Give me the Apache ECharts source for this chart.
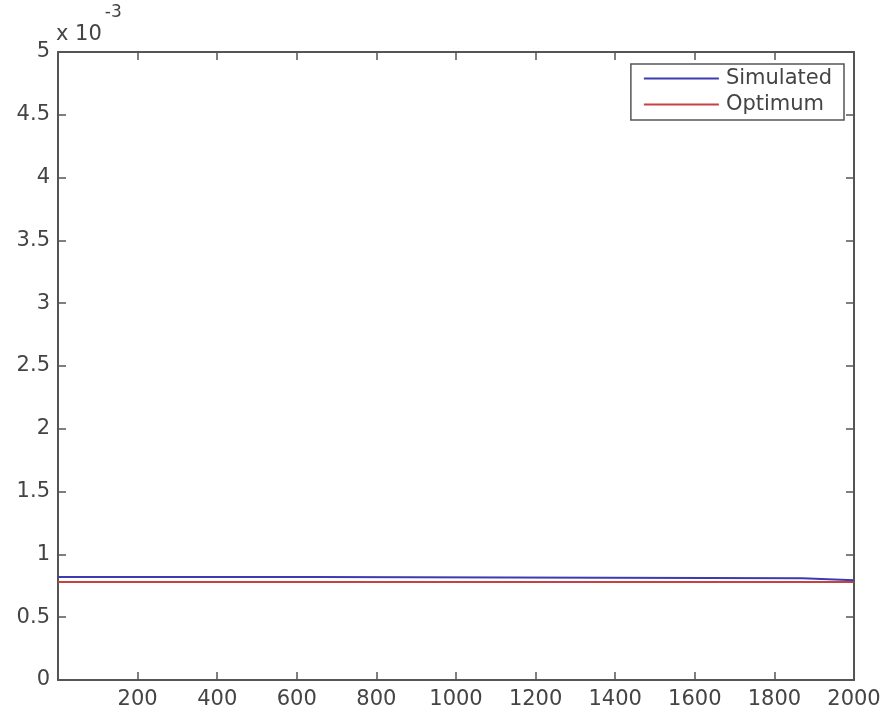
<!DOCTYPE html>
<html>
<head>
<meta charset="utf-8">
<script src="https://cdn.jsdelivr.net/npm/echarts@6/dist/echarts.min.js"></script>
<style>
html, body { margin: 0; padding: 0; background: #fff; }
#main { width: 886px; height: 715px; }
</style>
</head>
<body>
<div id="main"></div>
<script>
// data
const simX = [0, 650, 650, 1870, 1870, 2000];
const simY = [0.00082, 0.00082, 0.00081, 0.00081, 0.000795, 0.000795];
const optX = [0, 2000];
const optY = [0.00078, 0.00078];
const seriesNames = ['Simulated', 'Optimum'];

const axisCol = '#555';
const txtCol = '#444';
const fontFam = 'DejaVu Sans, sans-serif';

function pairs(xs, ys) {
  return xs.map((x, i) => [x, ys[i]]);
}

function yLabel(v) {
  const s = Math.round(v * 1e4) / 10;
  return String(s);
}

const chart = echarts.init(document.getElementById('main'));

const tickStyle = { inside: true, length: 8, lineStyle: { color: axisCol, width: 1.5 } };
const lineStyle = { show: true, onZero: false, lineStyle: { color: axisCol, width: 2 } };

chart.setOption({
  animation: false,
  backgroundColor: '#fff',
  grid: { left: 58, right: 32, top: 52, bottom: 35, containLabel: false },
  legend: {
    data: seriesNames,
    orient: 'vertical',
    right: 42,
    top: 64,
    padding: [4, 12, 5, 13],
    itemGap: 4,
    itemWidth: 75,
    itemHeight: 2,
    itemGap: 5,
    icon: 'rect',
    borderColor: axisCol,
    borderWidth: 1.5,
    backgroundColor: '#fff',
    textStyle: { fontSize: 21, color: txtCol, fontFamily: fontFam, padding: [0, 0, 0, 2] }
  },
  graphic: [{
    type: 'text',
    left: 56,
    top: 4,
    style: {
      text: '{a|x 10}{b|-3}',
      rich: {
        a: { fontSize: 21, fontFamily: fontFam, fill: txtCol, verticalAlign: 'bottom', padding: [20, 0, 0, 0] },
        b: { fontSize: 17, fontFamily: fontFam, fill: txtCol, verticalAlign: 'top', padding: [0, 0, 0, 3] }
      }
    }
  }],
  xAxis: [{
    type: 'value',
    min: 0,
    max: 2000,
    interval: 200,
    axisLine: lineStyle,
    axisTick: tickStyle,
    splitLine: { show: false },
    axisLabel: {
      margin: 9,
      fontSize: 21,
      color: txtCol,
      fontFamily: fontFam,
      formatter: v => (v === 0 ? '' : String(v))
    }
  }, {
    type: 'value',
    position: 'top',
    min: 0,
    max: 2000,
    interval: 200,
    axisLine: lineStyle,
    axisTick: tickStyle,
    splitLine: { show: false },
    axisLabel: { show: false }
  }],
  yAxis: [{
    type: 'value',
    min: 0,
    max: 0.005,
    interval: 0.0005,
    axisLine: lineStyle,
    axisTick: tickStyle,
    splitLine: { show: false },
    axisLabel: {
      margin: 8,
      fontSize: 21,
      color: txtCol,
      fontFamily: fontFam,
      formatter: yLabel
    }
  }, {
    type: 'value',
    position: 'right',
    min: 0,
    max: 0.005,
    interval: 0.0005,
    axisLine: lineStyle,
    axisTick: tickStyle,
    splitLine: { show: false },
    axisLabel: { show: false }
  }],
  series: [{
    name: seriesNames[0],
    type: 'line',
    data: pairs(simX, simY),
    showSymbol: false,
    itemStyle: { color: '#3c3cb0' },
    lineStyle: { color: '#3c3cb0', width: 2 },
    z: 3
  }, {
    name: seriesNames[1],
    type: 'line',
    data: pairs(optX, optY),
    showSymbol: false,
    itemStyle: { color: '#c84040' },
    lineStyle: { color: '#c84040', width: 2 },
    z: 2
  }]
});
</script>
</body>
</html>
